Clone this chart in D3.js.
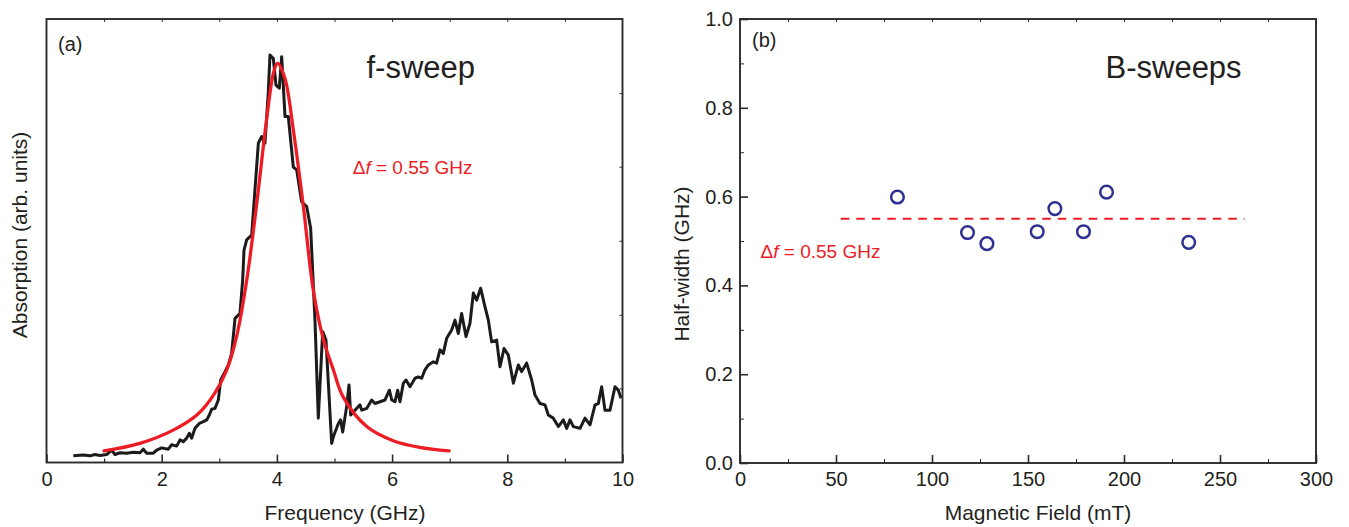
<!DOCTYPE html>
<html>
<head>
<meta charset="utf-8">
<script src="https://cdn.jsdelivr.net/npm/d3@7"></script>
<style>
  html, body { margin: 0; padding: 0; background: #fff; }
  svg { display: block; font-family: "Liberation Sans", Arial, Helvetica, sans-serif; }
</style>
</head>
<body>
<svg id="fig" width="1349" height="527"></svg>
<script>
// ---- (a) frequency sweep: measured absorption spectrum ----
const freqGHz = [
  0.466, 0.639, 0.755, 0.842, 0.929, 1.044, 1.131, 1.189, 1.276, 1.392,
  1.507, 1.623, 1.681, 1.739, 1.855, 1.912, 1.999, 2.115, 2.173, 2.260,
  2.318, 2.375, 2.433, 2.480, 2.520, 2.578, 2.653, 2.723, 2.781, 2.827,
  2.867, 2.925, 2.983, 3.024, 3.099, 3.157, 3.214, 3.273, 3.359, 3.406,
  3.429, 3.475, 3.562, 3.678, 3.736, 3.793, 3.851, 3.880, 3.938, 3.984,
  4.042, 4.083, 4.141, 4.198, 4.285, 4.343, 4.430, 4.517, 4.586, 4.661,
  4.719, 4.795, 4.852, 4.951, 4.980, 5.067, 5.107, 5.142, 5.211, 5.252,
  5.281, 5.356, 5.443, 5.472, 5.559, 5.645, 5.703, 5.790, 5.877, 5.953,
  5.993, 6.051, 6.097, 6.137, 6.195, 6.242, 6.311, 6.398, 6.456, 6.513,
  6.571, 6.629, 6.716, 6.773, 6.831, 6.889, 6.947, 7.034, 7.092, 7.149,
  7.207, 7.283, 7.352, 7.410, 7.468, 7.537, 7.613, 7.671, 7.728, 7.815,
  7.873, 7.943, 8.018, 8.105, 8.192, 8.249, 8.336, 8.423, 8.481, 8.568,
  8.655, 8.712, 8.799, 8.886, 8.973, 9.031, 9.089, 9.147, 9.263, 9.349,
  9.436, 9.523, 9.581, 9.638, 9.696, 9.783, 9.870, 9.928, 9.974
];
const absorption = [
  0.015, 0.017, 0.015, 0.018, 0.016, 0.018, 0.028, 0.018, 0.022, 0.021,
  0.023, 0.022, 0.030, 0.021, 0.021, 0.028, 0.033, 0.030, 0.040, 0.037,
  0.051, 0.047, 0.055, 0.066, 0.055, 0.077, 0.088, 0.092, 0.096, 0.107,
  0.120, 0.122, 0.141, 0.186, 0.205, 0.220, 0.246, 0.325, 0.336, 0.412,
  0.479, 0.502, 0.513, 0.720, 0.735, 0.720, 0.836, 0.919, 0.911, 0.851,
  0.844, 0.915, 0.780, 0.780, 0.666, 0.660, 0.588, 0.577, 0.528, 0.321,
  0.100, 0.295, 0.276, 0.043, 0.058, 0.088, 0.096, 0.069, 0.126, 0.175,
  0.107, 0.118, 0.130, 0.118, 0.122, 0.141, 0.133, 0.137, 0.141, 0.163,
  0.141, 0.137, 0.163, 0.137, 0.179, 0.186, 0.171, 0.190, 0.193, 0.190,
  0.209, 0.220, 0.227, 0.224, 0.254, 0.246, 0.280, 0.299, 0.321, 0.291,
  0.336, 0.284, 0.314, 0.382, 0.366, 0.393, 0.351, 0.321, 0.272, 0.276,
  0.216, 0.257, 0.242, 0.179, 0.220, 0.205, 0.224, 0.186, 0.152, 0.133,
  0.130, 0.107, 0.100, 0.081, 0.096, 0.077, 0.096, 0.081, 0.077, 0.100,
  0.085, 0.130, 0.133, 0.171, 0.118, 0.118, 0.171, 0.163, 0.145
];

// Lorentzian fit to the main resonance
const fitFreqGHz = [1.0, 1.62, 2.2, 2.61, 2.9, 3.13, 3.3, 3.475, 3.65, 3.82, 3.94, 4.01,
                    4.14, 4.285, 4.46, 4.63, 4.81, 4.98, 5.15, 5.56, 6.02, 6.48, 6.99];
const fitAbsorption = [0.026, 0.043, 0.073, 0.107, 0.152, 0.209, 0.284, 0.41, 0.584, 0.772, 0.878, 0.900,
                       0.866, 0.75, 0.577, 0.39, 0.276, 0.209, 0.148, 0.081, 0.049, 0.034, 0.026];
const fitHalfWidthGHz = 0.55;

const freqTicks = [0, 2, 4, 6, 8, 10];
const freqMinorTicks = [1, 3, 5, 7, 9];
const freqTopTicks = [1, 2, 3, 4, 5, 6, 7, 8, 9];
const absTicks = [0.167, 0.333, 0.5, 0.667, 0.833];

// ---- (b) field sweeps: half-width vs magnetic field ----
const fieldmT = [82.0, 118.5, 128.6, 154.8, 164.0, 178.9, 190.9, 233.7];
const halfWidthGHz = [0.599, 0.519, 0.494, 0.521, 0.573, 0.521, 0.610, 0.497];
const meanLineFieldmT = [52.5, 262.8];

const fieldTicks = [0, 50, 100, 150, 200, 250, 300];
const fieldMinorTicks = [25, 75, 125, 175, 225, 275];
const fieldTopTicks = [25, 50, 75, 100, 125, 150, 175, 200, 225, 250, 275];
const widthTicks = [0, 0.2, 0.4, 0.6, 0.8, 1.0];
const widthMinorTicks = [0.1, 0.3, 0.5, 0.7, 0.9];

// ---- drawing ----
const INK = "#231f20";
const RED = "#ed1c24";
const BLUE = "#2e3192";
const FRAME = "#2b2b2b";

const svg = d3.select("#fig");
svg.append("rect").attr("width", 1349).attr("height", 527).attr("fill", "#fff");

function styleAxis(g, width) {
  g.select(".domain").remove();
  g.selectAll(".tick line").attr("stroke", FRAME).attr("stroke-width", width);
  g.selectAll(".tick text")
    .attr("fill", INK)
    .attr("font-size", 20)
    .attr("font-family", "Liberation Sans, Arial, sans-serif");
}

function deltaLabel(sel, x, y) {
  const t = sel.append("text")
    .attr("x", x).attr("y", y)
    .attr("fill", RED).attr("font-size", 19);
  t.append("tspan").text("\u0394");
  t.append("tspan").attr("font-style", "italic").text("f");
  t.append("tspan").text(` = ${fitHalfWidthGHz.toFixed(2)} GHz`);
}

// ===== Panel (a) =====
const xA = d3.scaleLinear().domain([0, 10]).range([46.5, 622.5]);
const yA = d3.scaleLinear().domain([0, 1]).range([462.5, 19]);
const pa = svg.append("g");

// curves
const lineA = d3.line().x(d => xA(d[0])).y(d => yA(d[1]));
pa.append("path")
  .datum(freqGHz.map((f, i) => [f, absorption[i]]))
  .attr("d", lineA)
  .attr("fill", "none").attr("stroke", "#1c1a1a")
  .attr("stroke-width", 3).attr("stroke-linejoin", "round");

pa.append("path")
  .datum(fitFreqGHz.map((f, i) => [f, fitAbsorption[i]]))
  .attr("d", lineA.curve(d3.curveCatmullRom.alpha(0.5)))
  .attr("fill", "none").attr("stroke", RED)
  .attr("stroke-width", 3.3).attr("stroke-linecap", "round");

// frame
pa.append("rect")
  .attr("x", xA(0)).attr("y", yA(1))
  .attr("width", xA(10) - xA(0)).attr("height", yA(0) - yA(1))
  .attr("fill", "none").attr("stroke", FRAME).attr("stroke-width", 1.9);

// axes
pa.append("g").attr("transform", `translate(0,${yA(0)})`)
  .call(d3.axisBottom(xA).tickValues(freqTicks).tickFormat(d3.format("d"))
    .tickSizeInner(-8).tickSizeOuter(0).tickPadding(9))
  .call(g => styleAxis(g, 1.6));
pa.append("g").attr("transform", `translate(0,${yA(0)})`)
  .call(d3.axisBottom(xA).tickValues(freqMinorTicks).tickFormat("")
    .tickSizeInner(-4).tickSizeOuter(0))
  .call(g => styleAxis(g, 1.2));
pa.append("g").attr("transform", `translate(0,${yA(1)})`)
  .call(d3.axisTop(xA).tickValues(freqTopTicks).tickFormat("")
    .tickSizeInner(-3).tickSizeOuter(0))
  .call(g => styleAxis(g, 1));
pa.append("g").attr("transform", `translate(${xA(10)},0)`)
  .call(d3.axisRight(yA).tickValues(absTicks).tickFormat("")
    .tickSizeInner(-3).tickSizeOuter(0))
  .call(g => styleAxis(g, 1));

// labels
pa.append("text").attr("x", 345).attr("y", 520)
  .attr("text-anchor", "middle").attr("font-size", 21).attr("fill", INK)
  .text("Frequency (GHz)");
pa.append("text").attr("transform", "translate(27,235) rotate(-90)")
  .attr("text-anchor", "middle").attr("font-size", 21).attr("fill", INK)
  .text("Absorption (arb. units)");
pa.append("text").attr("x", 58).attr("y", 51)
  .attr("font-size", 20).attr("fill", INK).text("(a)");
pa.append("text").attr("x", 366.5).attr("y", 78)
  .attr("font-size", 31).attr("fill", INK).text("f-sweep");
deltaLabel(pa, 352.7, 174);

// ===== Panel (b) =====
const xB = d3.scaleLinear().domain([0, 300]).range([740, 1316]);
const yB = d3.scaleLinear().domain([0, 1]).range([463, 19]);
const pb = svg.append("g");

pb.append("rect")
  .attr("x", xB(0)).attr("y", yB(1))
  .attr("width", xB(300) - xB(0)).attr("height", yB(0) - yB(1))
  .attr("fill", "none").attr("stroke", FRAME).attr("stroke-width", 1.9);

pb.append("g").attr("transform", `translate(0,${yB(0)})`)
  .call(d3.axisBottom(xB).tickValues(fieldTicks).tickFormat(d3.format("d"))
    .tickSizeInner(-8).tickSizeOuter(0).tickPadding(9))
  .call(g => styleAxis(g, 1.6));
pb.append("g").attr("transform", `translate(0,${yB(0)})`)
  .call(d3.axisBottom(xB).tickValues(fieldMinorTicks).tickFormat("")
    .tickSizeInner(-4).tickSizeOuter(0))
  .call(g => styleAxis(g, 1));
pb.append("g").attr("transform", `translate(0,${yB(1)})`)
  .call(d3.axisTop(xB).tickValues(fieldTopTicks).tickFormat("")
    .tickSizeInner(-3).tickSizeOuter(0))
  .call(g => styleAxis(g, 1));
pb.append("g").attr("transform", `translate(${xB(0)},0)`)
  .call(d3.axisLeft(yB).tickValues(widthTicks).tickFormat(d3.format(".1f"))
    .tickSizeInner(-8).tickSizeOuter(0).tickPadding(7))
  .call(g => styleAxis(g, 1.6));
pb.append("g").attr("transform", `translate(${xB(0)},0)`)
  .call(d3.axisLeft(yB).tickValues(widthMinorTicks).tickFormat("")
    .tickSizeInner(-4).tickSizeOuter(0))
  .call(g => styleAxis(g, 1));

// mean half-width line
pb.append("line")
  .attr("x1", xB(meanLineFieldmT[0])).attr("x2", xB(meanLineFieldmT[1]))
  .attr("y1", yB(fitHalfWidthGHz)).attr("y2", yB(fitHalfWidthGHz))
  .attr("stroke", RED).attr("stroke-width", 2).attr("stroke-dasharray", "8.5,7");

// measured half-widths
pb.selectAll("circle.pt")
  .data(fieldmT.map((b, i) => [b, halfWidthGHz[i]]))
  .join("circle").attr("class", "pt")
  .attr("cx", d => xB(d[0])).attr("cy", d => yB(d[1]))
  .attr("r", 6.3)
  .attr("fill", "none").attr("stroke", BLUE).attr("stroke-width", 2.5);

pb.append("text").attr("x", 1038).attr("y", 520)
  .attr("text-anchor", "middle").attr("font-size", 21).attr("fill", INK)
  .text("Magnetic Field (mT)");
pb.append("text").attr("transform", "translate(689,264) rotate(-90)")
  .attr("text-anchor", "middle").attr("font-size", 21).attr("fill", INK)
  .text("Half-width (GHz)");
pb.append("text").attr("x", 752).attr("y", 47)
  .attr("font-size", 20).attr("fill", INK).text("(b)");
pb.append("text").attr("x", 1105.5).attr("y", 78)
  .attr("font-size", 31).attr("fill", INK).text("B-sweeps");
deltaLabel(pb, 760.5, 257.5);
</script>
</body>
</html>
